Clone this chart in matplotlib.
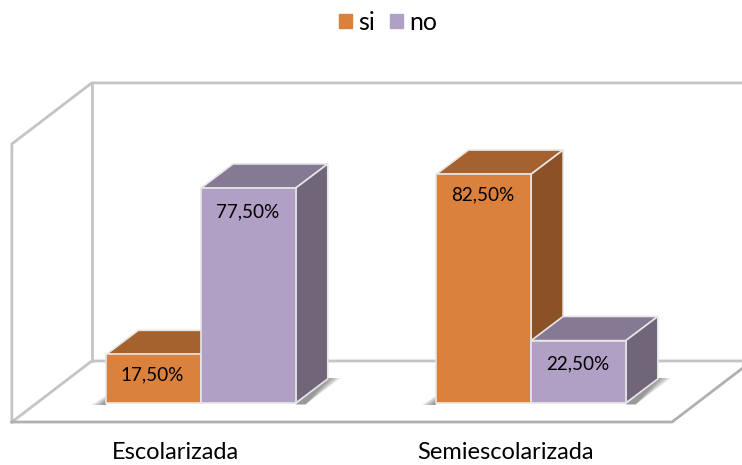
import matplotlib
matplotlib.use('Agg')
import matplotlib.pyplot as plt
from matplotlib.patches import Patch

categories = ['Escolarizada', 'Semiescolarizada']
si_values = [17.5, 82.5]
no_values = [77.5, 22.5]
si_labels = ['17,50%', '82,50%']
no_labels = ['77,50%', '22,50%']

plt.rcParams['font.family'] = ['Lato', 'DejaVu Sans']

BAR_W = 0.287
DX = 0.097
DY = 8.7
WALL_DX = 0.242
WALL_DY = 22.0
FLOOR_Y = -6.85
LEFT_X = -0.573
RIGHT_X = 1.427
TOP_Y = 93.4

SI_COLORS = ('#DA813D', '#A6622E', '#8A5226')
NO_COLORS = ('#B1A0C6', '#857994', '#706579')
EDGE = '#E6E6E6'
WALL = '#C4C4C4'


def draw_shadow(ax, left, right):
    # soft dark patches at the foot of each pair of bars
    for i in range(8):
        a = 0.08
        ax.fill([left - 0.045 + i * 0.005, left, left], [-0.8, -0.8, 2.6 - i * 0.25],
                color='#303030', alpha=a, lw=0, zorder=3)
        ax.fill([right, right + DX, right + DX + 0.04 - i * 0.005, right + 0.03],
                [-0.5, DY + 0.3, DY + 0.3, -0.5], color='#303030', alpha=a, lw=0, zorder=3)


def draw_bar(ax, x, value, colors, z):
    front, top, side = colors
    ax.fill([x, x + DX, x + BAR_W + DX, x + BAR_W],
            [value, value + DY, value + DY, value],
            facecolor=top, edgecolor=EDGE, lw=1.2, zorder=z)
    ax.fill([x + BAR_W, x + BAR_W + DX, x + BAR_W + DX, x + BAR_W],
            [0, DY, value + DY, value],
            facecolor=side, edgecolor=EDGE, lw=1.2, zorder=z)
    ax.bar(x, value, width=BAR_W, align='edge', color=front,
           edgecolor=EDGE, linewidth=1.2, zorder=z + 0.1)


fig = plt.figure(figsize=(7.42, 4.65), dpi=100)
ax = fig.add_axes([0, 0, 1, 1])
ax.set_xlim(-0.609, 1.639)
ax.set_ylim(-22.35, 145.3)
ax.axis('off')

# walls and floor
back_x = LEFT_X + WALL_DX
back_top = TOP_Y + WALL_DY
back_floor = FLOOR_Y + WALL_DY
ax.fill([LEFT_X, RIGHT_X, RIGHT_X + WALL_DX, back_x], [FLOOR_Y, FLOOR_Y, back_floor, back_floor],
        color='white', lw=0, zorder=0.5)
ax.plot([LEFT_X, LEFT_X, back_x, back_x, 2], [FLOOR_Y, TOP_Y, back_top, back_top, back_top],
        color=WALL, lw=2.0, zorder=1, solid_joinstyle='miter')
ax.plot([back_x, back_x], [back_top, back_floor], color=WALL, lw=2.0, zorder=1)
ax.plot([LEFT_X, back_x, 2], [FLOOR_Y, back_floor, back_floor], color=WALL, lw=2.0, zorder=1)
ax.plot([LEFT_X, RIGHT_X, RIGHT_X + WALL_DX], [FLOOR_Y, FLOOR_Y, back_floor],
        color='#B0B0B0', lw=2.0, zorder=1, solid_joinstyle='miter')

for i in range(len(categories)):
    draw_shadow(ax, i - BAR_W, i + BAR_W)
    draw_bar(ax, i - BAR_W, si_values[i], SI_COLORS, 4 + i)
    draw_bar(ax, i, no_values[i], NO_COLORS, 4.5 + i)
    ax.text(i - BAR_W / 2 - 0.004, si_values[i] - 7.4, si_labels[i], ha='center', va='center',
            fontsize=13.6, color='black', zorder=10)
    ax.text(i + BAR_W / 2 - 0.003, no_values[i] - 8.5, no_labels[i], ha='center', va='center',
            fontsize=13.6, color='black', zorder=10)
    ax.text(i - 0.077, -18.0, categories[i], ha='center', va='center',
            fontsize=17, color='black', zorder=10)

handles = [Patch(color=SI_COLORS[0], label='si'), Patch(color=NO_COLORS[0], label='no')]
fig.legend(handles=handles, loc='center', bbox_to_anchor=(0.523, 0.952), ncol=2,
           frameon=False, fontsize=18, handlelength=0.52, handleheight=0.52,
           handletextpad=0.25, columnspacing=0.62, labelcolor='black')

fig.savefig('out.png', dpi=100)
